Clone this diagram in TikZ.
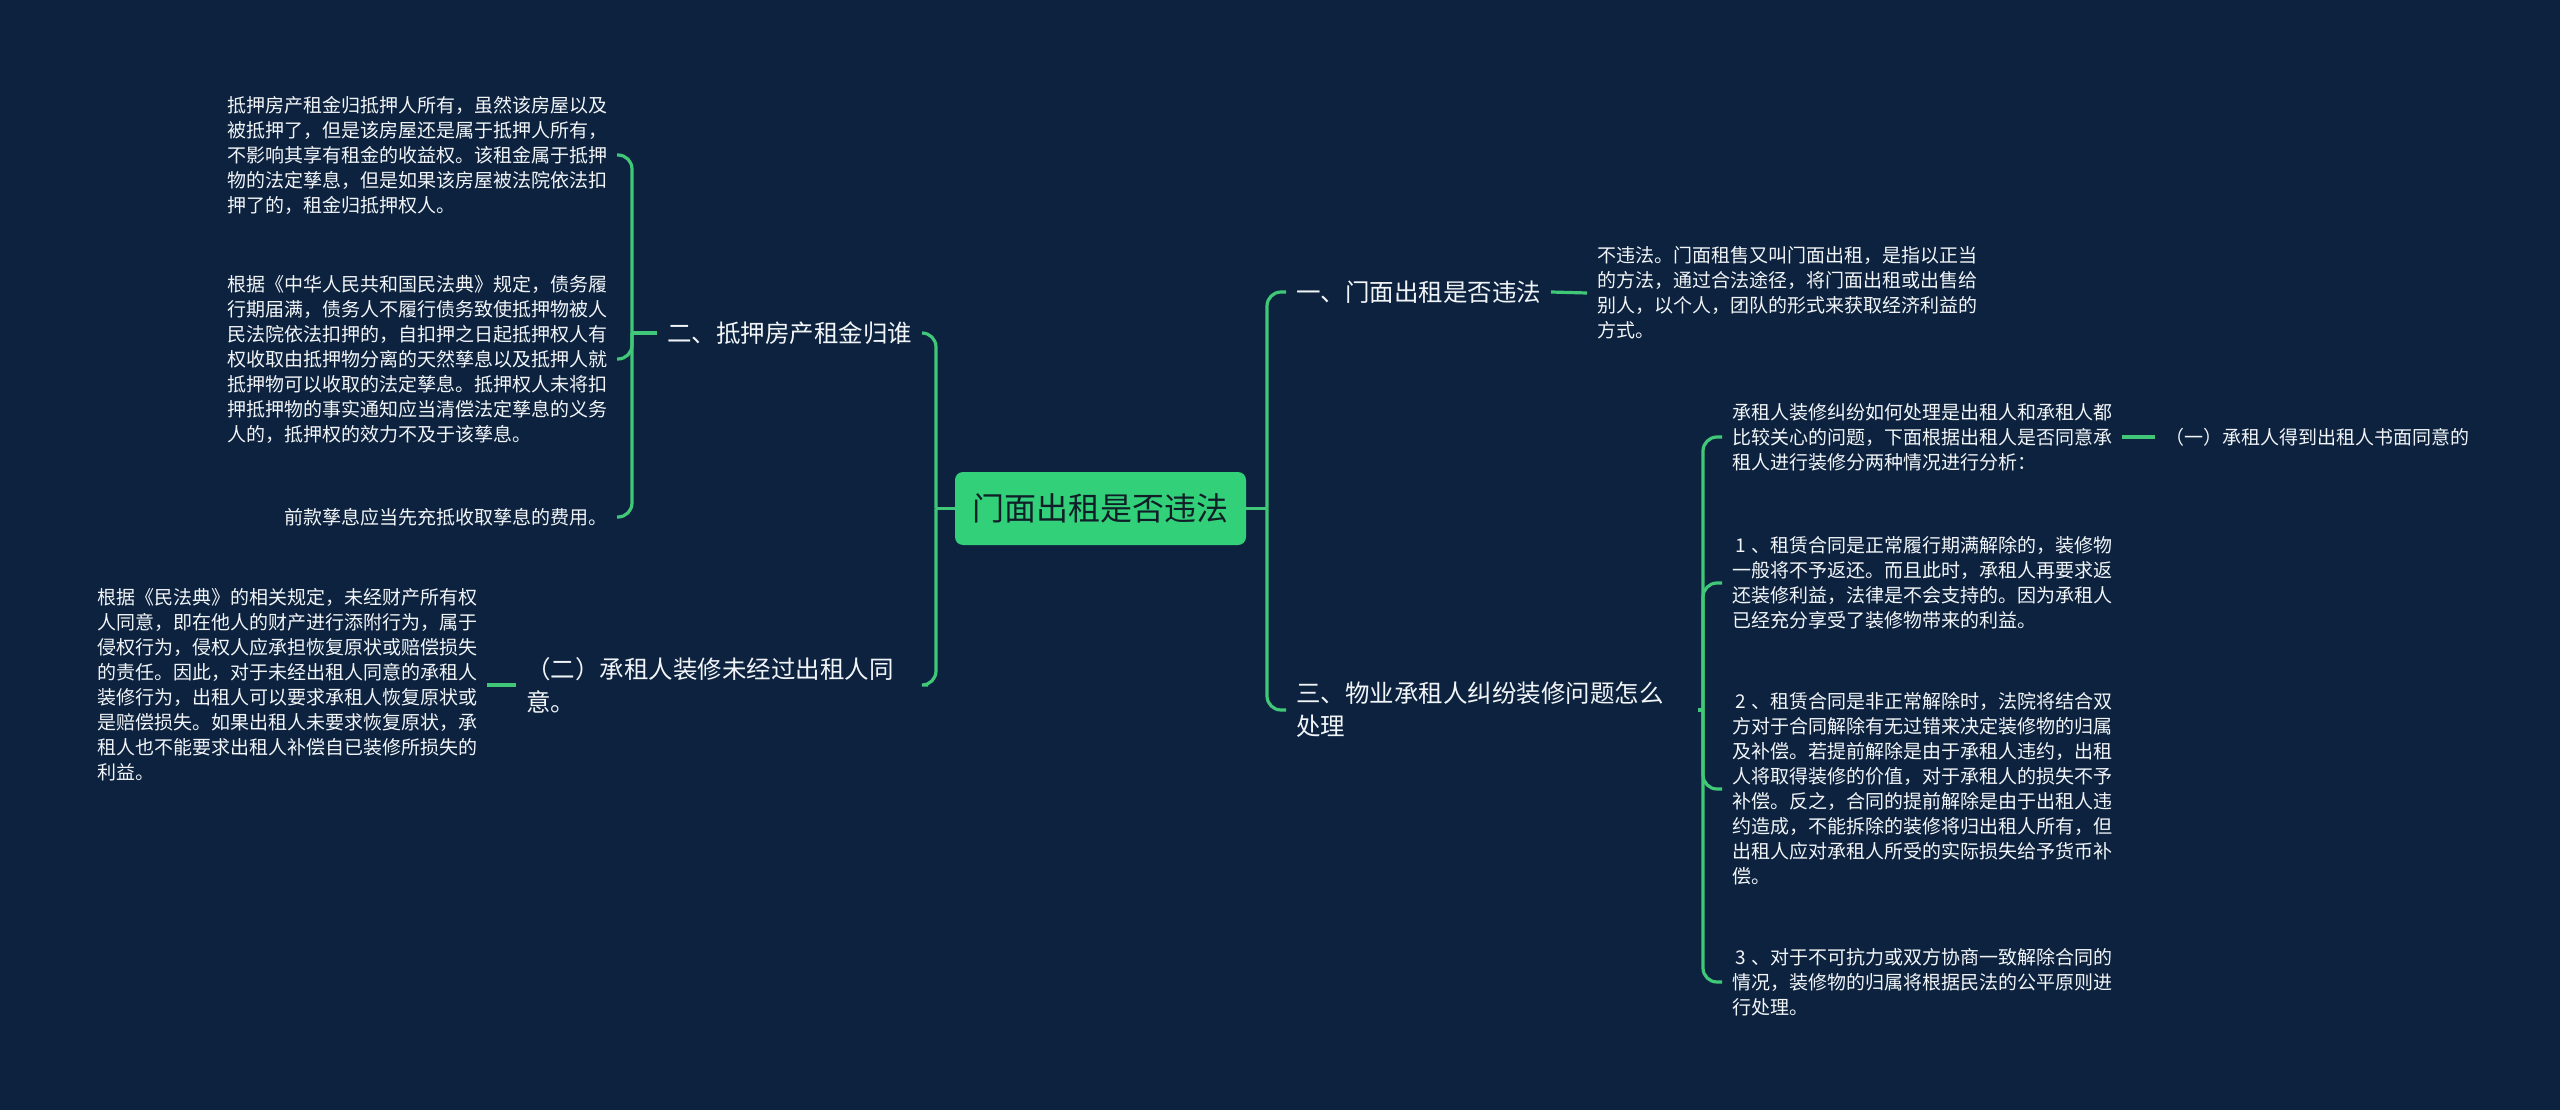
\documentclass[tikz,border=0pt]{standalone}
\usepackage{fontspec}
\setmainfont{Noto Sans CJK SC}
\definecolor{bg}{RGB}{12,34,62}
\definecolor{lk}{RGB}{64,200,120}
\definecolor{cen}{RGB}{50,208,120}
\definecolor{tx}{RGB}{242,245,248}
\definecolor{ctx}{RGB}{16,30,40}
\newcommand{\numpre}[1]{\hspace*{3pt}#1\hspace{6pt}}
\begin{document}
\begin{tikzpicture}[x=1pt,y=-1pt,
  conn/.style={draw=lk,line width=3.2pt,rounded corners=14pt},
  small/.style={font=\fontsize{19}{25}\selectfont,text=tx,align=left,inner sep=0pt,outer xsep=10pt},
  mid/.style={font=\fontsize{24.5}{33}\selectfont,text=tx,align=left,inner sep=0pt,outer xsep=10pt},
  rootbox/.style={fill=cen,rounded corners=8pt,minimum width=291pt,minimum height=73pt,inner sep=0pt,font=\fontsize{32}{38}\selectfont,text=ctx},
]
\fill[bg] (0,0) rectangle (2560,1110);
\useasboundingbox (0,0) rectangle (2560,1110);

% central
\node[rootbox] (root) at (1100.5,508.5) {门面出租是否违法};

% main branches
\node[mid,anchor=west] (n2) at (657,333) {二、抵押房产租金归谁};
\node[mid,anchor=west,text width=392pt] (nb2) at (516,685) {（二）承租人装修未经过出租人同\\意。};
\node[mid,anchor=west] (n1) at (1286,292) {一、门面出租是否违法};
\node[mid,anchor=west,text width=392pt] (n3) at (1286,710) {三、物业承租人纠纷装修问题怎么\\处理};

% left leaves
\node[small,anchor=east] (A) at (617,155) {抵押房产租金归抵押人所有，虽然该房屋以及\\被抵押了，但是该房屋还是属于抵押人所有，\\不影响其享有租金的收益权。该租金属于抵押\\物的法定孳息，但是如果该房屋被法院依法扣\\押了的，租金归抵押权人。};
\node[small,anchor=east] (B) at (617,359) {根据《中华人民共和国民法典》规定，债务履\\行期届满，债务人不履行债务致使抵押物被人\\民法院依法扣押的，自扣押之日起抵押权人有\\权收取由抵押物分离的天然孳息以及抵押人就\\抵押物可以收取的法定孳息。抵押权人未将扣\\押抵押物的事实通知应当清偿法定孳息的义务\\人的，抵押权的效力不及于该孳息。};
\node[small,anchor=east] (C) at (617,517) {前款孳息应当先充抵收取孳息的费用。};
\node[small,anchor=east] (D) at (487,685) {根据《民法典》的相关规定，未经财产所有权\\人同意，即在他人的财产进行添附行为，属于\\侵权行为，侵权人应承担恢复原状或赔偿损失\\的责任。因此，对于未经出租人同意的承租人\\装修行为，出租人可以要求承租人恢复原状或\\是赔偿损失。如果出租人未要求恢复原状，承\\租人也不能要求出租人补偿自已装修所损失的\\利益。};

% right leaves
\node[small,anchor=west] (E) at (1587,293) {不违法。门面租售又叫门面出租，是指以正当\\的方法，通过合法途径，将门面出租或出售给\\别人，以个人，团队的形式来获取经济利益的\\方式。};
\node[small,anchor=west] (F) at (1722,437) {承租人装修纠纷如何处理是出租人和承租人都\\比较关心的问题，下面根据出租人是否同意承\\租人进行装修分两种情况进行分析：};
\node[small,anchor=west] (G) at (1722,583) {\numpre{1}、租赁合同是正常履行期满解除的，装修物\\一般将不予返还。而且此时，承租人再要求返\\还装修利益，法律是不会支持的。因为承租人\\已经充分享受了装修物带来的利益。};
\node[small,anchor=west] (H) at (1722,789) {\numpre{2}、租赁合同是非正常解除时，法院将结合双\\方对于合同解除有无过错来决定装修物的归属\\及补偿。若提前解除是由于承租人违约，出租\\人将取得装修的价值，对于承租人的损失不予\\补偿。反之，合同的提前解除是由于出租人违\\约造成，不能拆除的装修将归出租人所有，但\\出租人应对承租人所受的实际损失给予货币补\\偿。};
\node[small,anchor=west] (I) at (1722,982) {\numpre{3}、对于不可抗力或双方协商一致解除合同的\\情况，装修物的归属将根据民法的公平原则进\\行处理。};
\node[small,anchor=west] (J) at (2155,437) {（一）承租人得到出租人书面同意的};

% junctions
\coordinate (jL) at (936,508.5);
\coordinate (jR) at (1267,508.5);
\coordinate (j2) at (632,333);
\coordinate (j3) at (1703,710);

% connectors
\draw[conn] (root.west) -- (jL);
\draw[conn] (jL) |- (n2.east);
\draw[conn] (jL) |- (nb2.east);
\draw[conn] (root.east) -- (jR);
\draw[conn] (jR) |- (n1.west);
\draw[conn] (jR) |- (n3.west);

\draw[conn] (n2.west) -- (j2);
\draw[conn] (j2) |- (A.east);
\draw[conn] (j2) |- (B.east);
\draw[conn] (j2) |- (C.east);

\draw[conn] (nb2.west) -- (D.east);
\draw[conn] (n1.east) -- (E.west);

\draw[conn] (n3.east) -- (j3);
\draw[conn] (j3) |- (F.west);
\draw[conn] (j3) |- (G.west);
\draw[conn] (j3) |- (H.west);
\draw[conn] (j3) |- (I.west);
\draw[conn] (F.east) -- (J.west);
\end{tikzpicture}
\end{document}
